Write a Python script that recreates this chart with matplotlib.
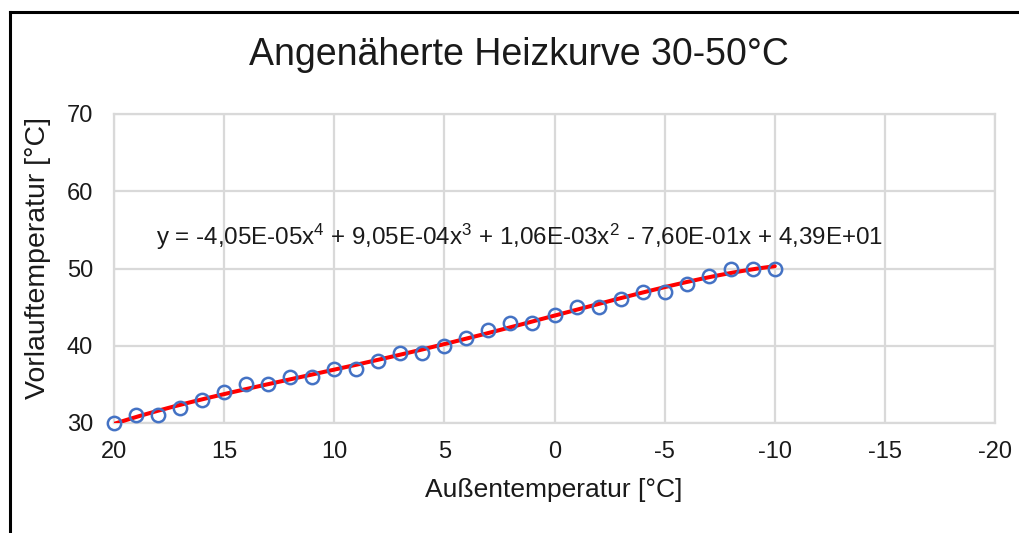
import numpy as np
import matplotlib
matplotlib.use("Agg")
import matplotlib.pyplot as plt
from matplotlib.lines import Line2D

plt.rcParams['font.family'] = ['Liberation Sans', 'DejaVu Sans']
plt.rcParams['mathtext.fontset'] = 'custom'
plt.rcParams['mathtext.rm'] = 'Liberation Sans'
plt.rcParams['mathtext.it'] = 'Liberation Sans'
plt.rcParams['mathtext.bf'] = 'Liberation Sans'

# Messwerte: Außentemperatur -> Vorlauftemperatur
aussen = [20, 19, 18, 17, 16, 15, 14, 13, 12, 11, 10, 9, 8, 7, 6, 5,
          4, 3, 2, 1, 0, -1, -2, -3, -4, -5, -6, -7, -8, -9, -10]
vorlauf = [30, 31, 31, 32, 33, 34, 35, 35, 36, 36, 37, 37, 38, 39, 39, 40,
           41, 42, 43, 43, 44, 45, 45, 46, 47, 47, 48, 49, 50, 50, 50]

# Polynom 4. Grades (höchste Potenz zuerst)
koeff = [-4.05e-05, 9.05e-04, 1.06e-03, -7.60e-01, 4.39e+01]

x_ticks = [20, 15, 10, 5, 0, -5, -10, -15, -20]
y_ticks = [30, 40, 50, 60, 70]

blau = '#4472C4'
grau = '#D9D9D9'
text_farbe = '#1a1a1a'

fig = plt.figure(figsize=(10.19, 5.33), dpi=100)
W, H = 1019, 533
ax = fig.add_axes([114 / W, 1 - 423 / H, (995 - 114) / W, (423 - 114) / H])

# Trendlinie
xs = np.linspace(max(aussen), min(aussen), 200)
ax.plot(xs, np.polyval(koeff, xs), color='red', lw=2.9, zorder=3,
        solid_capstyle='round')

ax.plot(aussen, vorlauf, 'o', ms=9.6, mfc='none', mec=blau, mew=1.8,
        zorder=4, clip_on=False)

ax.set_xlim(20, -20)
ax.set_ylim(30, 70)
ax.set_xticks(x_ticks)
ax.set_yticks(y_ticks)
ax.set_xticklabels([str(t) for t in x_ticks])
ax.tick_params(length=0, labelsize=17, colors=text_farbe)
ax.tick_params(axis='x', pad=13)
ax.tick_params(axis='y', pad=15)
ax.grid(True, color=grau, lw=1.6)
ax.set_axisbelow(True)
for side in ax.spines.values():
    side.set_color(grau)
    side.set_linewidth(1.6)

fig.text(554 / W, 1 - 490 / H, 'Außentemperatur [°C]', fontsize=19,
         color=text_farbe, ha='center', va='center')
fig.text(38 / W, 1 - 258 / H, 'Vorlauftemperatur [°C]', fontsize=20.5,
         color=text_farbe, ha='center', va='center', rotation=90)


# Gleichung der Trendlinie
def fmt(c):
    return '{:.2E}'.format(abs(c)).replace('.', ',')


teile = []
grad = len(koeff) - 1
for i, c in enumerate(koeff):
    p = grad - i
    term = fmt(c)
    if p >= 2:
        term += 'x$^{\\mathregular{%d}}$' % p
    elif p == 1:
        term += 'x'
    if i == 0:
        teile.append(('-' if c < 0 else '') + term)
    else:
        teile.append(('- ' if c < 0 else '+ ') + term)
gleichung = 'y = ' + ' '.join(teile)
ax.text(18.1, 54.1, gleichung, fontsize=17.4, color=text_farbe,
        ha='left', va='center')

fig.text(519 / W, 1 - 55 / H, 'Angenäherte Heizkurve 30-50°C',
         fontsize=27, ha='center', va='center', color=text_farbe)

# Rahmen oben und links
fig.add_artist(Line2D([10 / W, 1.0], [1 - 12 / H, 1 - 12 / H],
                      color='black', lw=2.2, transform=fig.transFigure))
fig.add_artist(Line2D([10 / W, 10 / W], [0.0, 1 - 12 / H],
                      color='black', lw=2.2, transform=fig.transFigure))

fig.savefig('out.png', dpi=100, facecolor='white')
